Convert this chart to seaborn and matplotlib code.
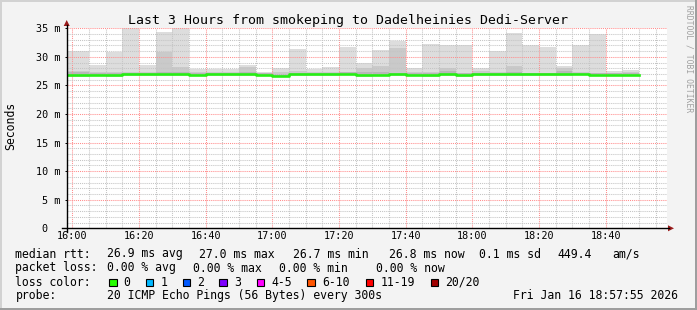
import numpy as np
import pandas as pd
import matplotlib
matplotlib.use("Agg")
import matplotlib.pyplot as plt
from matplotlib.ticker import MultipleLocator
from matplotlib.lines import Line2D
from matplotlib.patches import Rectangle, Polygon
import seaborn as sns

# ---------------- data ----------------
# start of each 5-minute bin, minutes after 16:00
bin_start_min = [-5, 0, 5, 10, 15, 20, 25, 30, 35, 40, 45, 50, 55, 60, 65, 70, 75,
                 80, 85, 90, 95, 100, 105, 110, 115, 120, 125, 130, 135, 140, 145,
                 150, 155, 160, 165]
# RTT in milliseconds
ping_max = [31.1, 31.1, 28.5, 30.8, 35.5, 28.5, 34.3, 35.5, 27.8, 27.9, 27.9, 28.6,
            27.3, 28.1, 31.3, 27.9, 28.3, 31.8, 29.0, 31.2, 32.8, 28.0, 32.3, 32.0,
            32.0, 28.0, 31.1, 34.2, 32.1, 31.8, 28.4, 32.1, 34.0, 27.6, 27.7]
ping_hi2 = [27.5, 27.5, 27.3, 27.4, 27.4, 27.4, 30.8, 28.2, 27.3, 27.4, 27.4, 28.2,
            27.2, 27.3, 27.6, 27.3, 27.4, 27.4, 28.0, 28.4, 31.6, 27.3, 27.4, 28.0,
            27.2, 27.6, 27.4, 28.4, 27.2, 27.2, 28.0, 27.3, 27.2, 27.2, 27.3]
ping_hi3 = [27.3, 27.3, 27.1, 27.2, 27.2, 27.2, 27.3, 27.3, 27.2, 27.2, 27.2, 27.4,
            27.1, 27.0, 27.2, 27.1, 27.2, 27.3, 27.3, 27.3, 27.2, 27.1, 27.1, 27.6,
            27.1, 27.2, 27.2, 27.3, 27.1, 27.1, 27.6, 27.2, 27.1, 27.1, 27.1]
ping_median = [26.9, 26.9, 26.9, 26.9, 26.95, 26.95, 26.95, 26.95, 26.9, 26.95, 26.95,
               26.95, 26.9, 26.7, 26.95, 26.95, 26.95, 27.05, 26.9, 26.9, 26.95, 26.9,
               26.9, 26.95, 26.9, 26.95, 26.95, 26.95, 26.95, 26.95, 26.95, 27.05, 26.9,
               26.9, 26.85]
ping_lo3 = [26.8, 26.8, 26.85, 26.8, 26.85, 26.85, 26.85, 26.85, 26.85, 26.85, 26.85,
            26.85, 26.85, 26.6, 26.85, 26.85, 26.85, 26.95, 26.8, 26.85, 26.85, 26.8,
            26.7, 26.85, 26.8, 26.85, 26.85, 26.85, 26.85, 26.85, 26.85, 26.95, 26.85,
            26.85, 26.8]
ping_lo2 = [26.7, 26.7, 26.8, 26.7, 26.8, 26.8, 26.8, 26.8, 26.8, 26.8, 26.8, 26.8,
            26.8, 26.55, 26.8, 26.8, 26.8, 26.9, 26.7, 26.8, 26.8, 26.75, 26.6, 26.8,
            26.7, 26.8, 26.8, 26.8, 26.8, 26.8, 26.8, 26.9, 26.8, 26.8, 26.75]
ping_min = [26.5, 26.5, 26.7, 26.5, 26.7, 26.7, 26.7, 26.7, 26.7, 26.7, 26.7, 26.7,
            26.7, 26.4, 26.7, 26.7, 26.7, 26.8, 26.5, 26.7, 26.7, 26.65, 26.4, 26.7,
            26.5, 26.7, 26.7, 26.7, 26.7, 26.7, 26.7, 26.8, 26.7, 26.7, 26.7]

xtick_pos = [0, 20, 40, 60, 80, 100, 120, 140, 160]
xtick_labels = ["16:00", "16:20", "16:40", "17:00", "17:20", "17:40", "18:00", "18:20", "18:40"]
ytick_vals = [0, 5, 10, 15, 20, 25, 30, 35]
ytick_labels = ["0  ", "5 m", "10 m", "15 m", "20 m", "25 m", "30 m", "35 m"]

rtt_legend = ["median rtt:", "26.9 ms avg", "27.0 ms max", "26.7 ms min",
              "26.8 ms now", "0.1 ms sd", "449.4", "am/s"]
loss_legend = ["packet loss:", "0.00 % avg", "0.00 % max", "0.00 % min", "0.00 % now"]
loss_labels = ["0", "1", "2", "3", "4-5", "6-10", "11-19", "20/20"]
loss_colors = ["#26ff00", "#00b8ff", "#0059ff", "#7e00ff", "#ff00ff", "#ff5500",
               "#ff0000", "#a10000"]
probe_legend = ["probe:", "20 ICMP Echo Pings (56 Bytes) every 300s",
                "Fri Jan 16 18:57:55 2026"]
title = "Last 3 Hours from smokeping to Dadelheinies Dedi-Server"

# ---------------- figure ----------------
W, H = 697, 310
MONO = "DejaVu Sans Mono"
plt.rcParams["font.family"] = [MONO]

fig = plt.figure(figsize=(W / 100, H / 100), dpi=100, facecolor="#f3f3f3")


def fx(x):
    return x / W


def fy(y):
    return 1 - y / H


def rect(x0, y0, x1, y1, color, **kw):
    fig.add_artist(Rectangle((fx(x0), fy(y1)), (x1 - x0) / W, (y1 - y0) / H,
                             transform=fig.transFigure, facecolor=color, **kw))


# frame shading
rect(0, 0, W, 1.5, "#d2d2d2", linewidth=0)
rect(0, 0, 1.5, H, "#d2d2d2", linewidth=0)
rect(W - 2.5, 0, W, H, "#9e9e9e", linewidth=0)
rect(0, H - 2.5, W, H, "#9e9e9e", linewidth=0)

ax_l, ax_b, ax_w, ax_h = 66.7, 228.3, 600, 200
ax = fig.add_axes([fx(ax_l), fy(ax_b), ax_w / W, ax_h / H])
ax.set_facecolor("white")

# smoke layers
layers = [(ping_min, ping_max, "#dddddd"),
          (ping_lo2, ping_hi2, "#cacaca"),
          (ping_lo3, ping_hi3, "#b7b7b7")]
for lo, hi, col in layers:
    ax.bar(bin_start_min, np.subtract(hi, lo), bottom=lo, width=5, align="edge",
           color=col, linewidth=0, antialiased=False, zorder=1)

# median line
med_df = pd.DataFrame({
    "t": bin_start_min + [bin_start_min[-1] + 5],
    "rtt": ping_median + [ping_median[-1]],
})
sns.lineplot(data=med_df, x="t", y="rtt", estimator=None, drawstyle="steps-post",
             color="#26ee14", linewidth=1.9, ax=ax, zorder=3, legend=False)

ax.set_xlim(-1.68, 178.3)
ax.set_ylim(0, 35)
ax.set_xlabel("")
ax.set_ylabel("")

ax.set_xticks(xtick_pos, labels=xtick_labels)
ax.xaxis.set_minor_locator(MultipleLocator(5))
ax.set_yticks(ytick_vals, labels=ytick_labels)
ax.yaxis.set_minor_locator(MultipleLocator(1))

ax.set_axisbelow(False)
ax.grid(which="major", color="#ff8c8c", linestyle=(0, (1, 1)), linewidth=0.75)
ax.grid(which="minor", color="#c4c4c4", linestyle=(0, (1, 1)), linewidth=0.75)

ax.tick_params(axis="x", which="major", length=0, pad=2.3, labelsize=7.3, colors="black")
ax.tick_params(axis="y", which="major", length=1.5, width=0.7, pad=3.2, labelsize=7.3,
               colors="black")
ax.tick_params(which="minor", length=0)
for lab in ax.get_xticklabels() + ax.get_yticklabels():
    lab.set_fontfamily(MONO)
for s in ax.spines.values():
    s.set_visible(False)

# axis lines and arrows
fig.add_artist(Line2D([fx(61.7), fx(668.5)], [fy(ax_b), fy(ax_b)],
                      transform=fig.transFigure, color="black", linewidth=1.0))
fig.add_artist(Line2D([fx(ax_l), fx(ax_l)], [fy(231.5), fy(24.5)],
                      transform=fig.transFigure, color="black", linewidth=1.0))
fig.add_artist(Polygon([[fx(668), fy(225.3)], [fx(674), fy(ax_b)], [fx(668), fy(231.3)]],
                       closed=True, transform=fig.transFigure, facecolor="#9b1b1b",
                       edgecolor="none"))
fig.add_artist(Polygon([[fx(63.7), fy(26)], [fx(ax_l), fy(20)], [fx(69.7), fy(26)]],
                       closed=True, transform=fig.transFigure, facecolor="#9b1b1b",
                       edgecolor="none"))

# titles
fig.text(fx(347.5), fy(24), title, ha="center", va="baseline", fontsize=9.5,
         family=MONO, color="black")
fig.text(fx(11), fy(126), "Seconds", ha="center", va="center", rotation=90,
         fontsize=8.3, family=MONO, color="black")
fig.text(fx(688.5), fy(5), "RRDTOOL / TOBI OETIKER", ha="center", va="top",
         rotation=270, fontsize=5.8, family=MONO, color="#a0a0a0")

# legend lines
LEG = 8.3
for x, s in zip([16, 107.3, 200, 293.3, 390, 479.3, 558.3, 613.3], rtt_legend):
    fig.text(fx(x - 0.6), fy(257.5), s, ha="left", va="baseline", fontsize=LEG, family=MONO)
for x, s in zip([16, 107.3, 193.3, 279.3, 376.7], loss_legend):
    fig.text(fx(x - 0.6), fy(271.5), s, ha="left", va="baseline", fontsize=LEG, family=MONO)
fig.text(fx(15.4), fy(285.5), "loss color:", ha="left", va="baseline", fontsize=LEG,
         family=MONO)
for bx, lab, col in zip([109, 145.7, 182.7, 219.3, 256.7, 307.3, 365.7, 430.7],
                        loss_labels, loss_colors):
    rect(bx, 278.5, bx + 7.5, 286.3, col, edgecolor="black", linewidth=0.8)
    fig.text(fx(bx + 14.5), fy(285.5), lab, ha="left", va="baseline", fontsize=LEG,
             family=MONO)
for x, s in zip([16, 107.3, 513.3], probe_legend):
    fig.text(fx(x - 0.6), fy(299), s, ha="left", va="baseline", fontsize=LEG, family=MONO)

fig.savefig("out.png", dpi=100, facecolor=fig.get_facecolor())
